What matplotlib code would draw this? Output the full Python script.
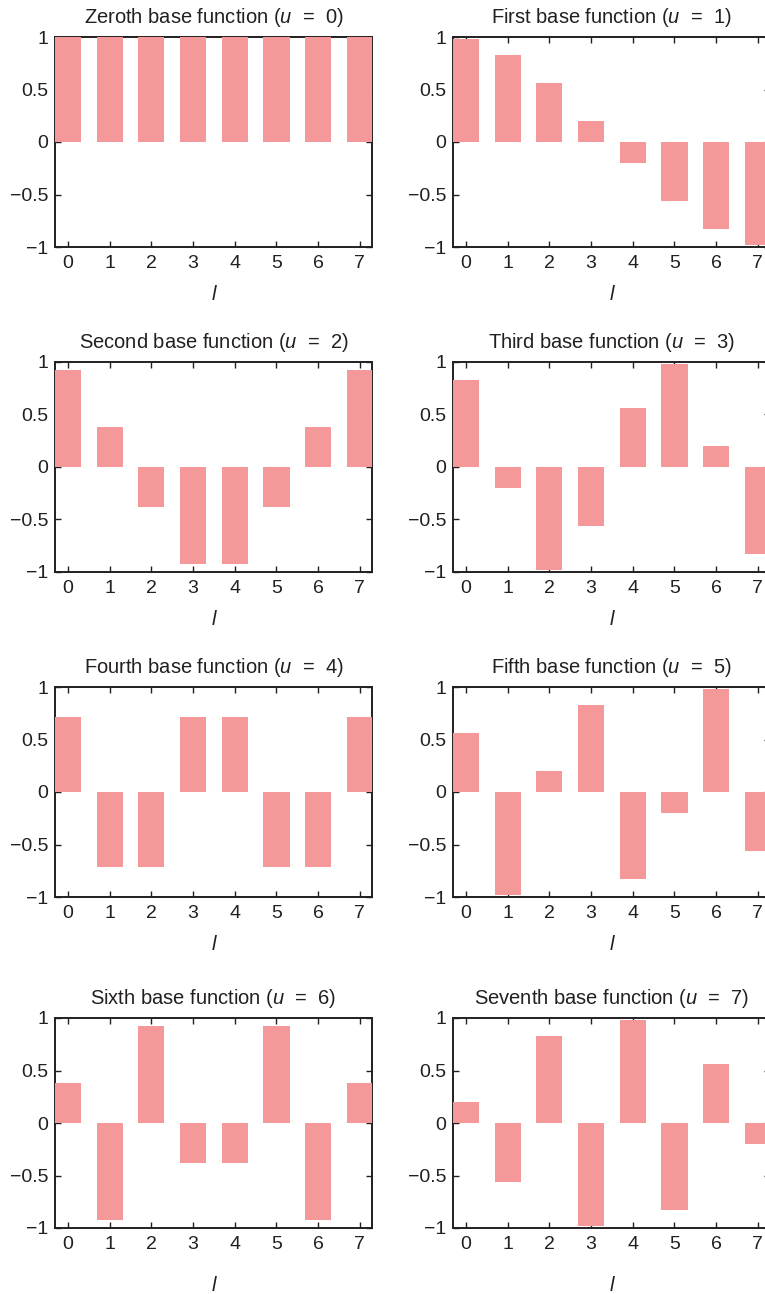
import matplotlib
matplotlib.use("Agg")
import matplotlib.pyplot as plt
from matplotlib.ticker import FixedLocator, FuncFormatter

plt.rcParams['font.family'] = ['Liberation Sans', 'DejaVu Sans']
plt.rcParams['mathtext.fontset'] = 'custom'
plt.rcParams['mathtext.rm'] = 'Liberation Sans'
plt.rcParams['mathtext.it'] = 'Liberation Sans:italic'

# Sample index l and the eight cosine base functions sampled at l = 0..7
l_values = [0, 1, 2, 3, 4, 5, 6, 7]
base_u0 = [1.0, 1.0, 1.0, 1.0, 1.0, 1.0, 1.0, 1.0]
base_u1 = [0.98, 0.83, 0.56, 0.2, -0.2, -0.56, -0.83, -0.98]
base_u2 = [0.92, 0.38, -0.38, -0.92, -0.92, -0.38, 0.38, 0.92]
base_u3 = [0.83, -0.2, -0.98, -0.56, 0.56, 0.98, 0.2, -0.83]
base_u4 = [0.71, -0.71, -0.71, 0.71, 0.71, -0.71, -0.71, 0.71]
base_u5 = [0.56, -0.98, 0.2, 0.83, -0.83, -0.2, 0.98, -0.56]
base_u6 = [0.38, -0.92, 0.92, -0.38, -0.38, 0.92, -0.92, 0.38]
base_u7 = [0.2, -0.56, 0.83, -0.98, 0.98, -0.83, 0.56, -0.2]

ordinals = ["Zeroth", "First", "Second", "Third",
            "Fourth", "Fifth", "Sixth", "Seventh"]
series = [base_u0, base_u1, base_u2, base_u3,
          base_u4, base_u5, base_u6, base_u7]
y_ticks = [-1, -0.5, 0, 0.5, 1]

BAR_COLOR = "#f5989a"
INK = "#231f20"

W, H = 765, 1294
fig = plt.figure(figsize=(W / 100, H / 100), dpi=100)

# Panel frames in pixels: (left, top) for each grid slot
col_left = [55, 453]
row_top = [37, 362, 687, 1018]
ax_w, ax_h = 317, 210
label_pad = [9, 9, 9, 16]


def fmt(v, _pos):
    if v == 0:
        return "0"
    s = ("%g" % abs(v))
    return ("\u2212" + s) if v < 0 else s


for k, (name, vals) in enumerate(zip(ordinals, series)):
    r, c = divmod(k, 2)
    left = col_left[c] / W
    bottom = 1 - (row_top[r] + ax_h) / H
    ax = fig.add_axes([left, bottom, ax_w / W, ax_h / H])
    ax.bar(l_values, vals, width=0.63, color=BAR_COLOR, zorder=3)
    ax.set_xlim(-0.31, 7.29)
    ax.set_ylim(-1, 1)
    ax.xaxis.set_major_locator(FixedLocator(l_values))
    ax.yaxis.set_major_locator(FixedLocator(y_ticks))
    ax.yaxis.set_major_formatter(FuncFormatter(fmt))
    ax.tick_params(direction="in", top=True, right=True, length=4,
                   width=1.0, color=INK, labelsize=14, labelcolor=INK)
    ax.tick_params(axis="x", pad=6)
    ax.tick_params(axis="y", pad=5)
    for sp in ax.spines.values():
        sp.set_color(INK)
        sp.set_linewidth(1.4)
    ax.set_title(f"{name} base function ($u$  =  {k})", fontsize=14.5,
                 color=INK, pad=10)
    ax.set_xlabel("l", fontstyle="italic", fontsize=14.5, color=INK,
                  labelpad=label_pad[r])

fig.savefig("out.png", dpi=100)
